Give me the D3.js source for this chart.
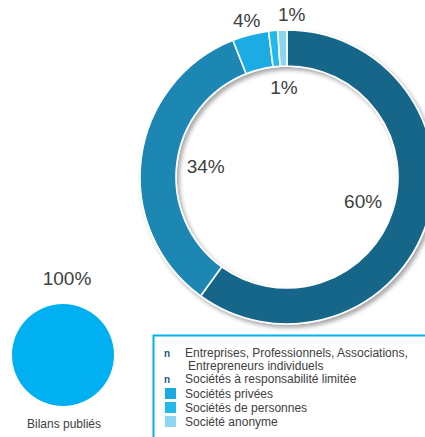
<!DOCTYPE html>
<html>
<head>
<meta charset="utf-8">
<script src="https://cdn.jsdelivr.net/npm/d3@7"></script>
<style>
  html, body { margin: 0; padding: 0; background: #fff; }
  svg { display: block; font-family: "Liberation Sans", Arial, sans-serif; }
</style>
</head>
<body>
<svg id="chart" width="425" height="437"></svg>
<script>
// Répartition des bilans publiés par forme juridique
const categories = [
  "Entreprises, Professionnels, Associations,\nEntrepreneurs individuels",
  "Sociétés à responsabilité limitée",
  "Sociétés privées",
  "Sociétés de personnes",
  "Société anonyme"
];
const shares = [60, 34, 4, 1, 1];
const shareLabels = ["60%", "34%", "4%", "1%", "1%"];
const colors = ["#17668a", "#1a87b3", "#1aabe2", "#22b9ed", "#8cd6f1"];
const legendMarkers = ["n", "n", "square", "square", "square"];

const totalLabel = "100%";
const totalCaption = "Bilans publiés";

// label placement: radius from donut center and angular nudge (radians)
const labelRadius = [80, 82, 162, 90, 163];
const labelNudge = [0, 0, 0, 0.06, 0.06];

const svg = d3.select("#chart");

const defs = svg.append("defs");
const shadow = defs.append("filter").attr("id", "shadow")
  .attr("x", "-20%").attr("y", "-20%").attr("width", "140%").attr("height", "140%");
shadow.append("feDropShadow")
  .attr("dx", 2.5).attr("dy", 3).attr("stdDeviation", 2.2)
  .attr("flood-color", "#000").attr("flood-opacity", 0.35);

// --- donut ---
const cx = 287, cy = 177, rOuter = 147, rInner = 111;
const pie = d3.pie().sort(null).value(d => d)(shares);
const arc = d3.arc().innerRadius(rInner).outerRadius(rOuter);

const g = svg.append("g").attr("transform", `translate(${cx},${cy})`);
g.append("g").attr("filter", "url(#shadow)")
  .selectAll("path").data(pie).join("path")
  .attr("d", arc)
  .attr("fill", (d, i) => colors[i])
  .attr("stroke", "#fff").attr("stroke-width", 1.6)
  .attr("stroke-linejoin", "round");

g.selectAll("text.val").data(pie).join("text")
  .attr("class", "val")
  .attr("transform", (d, i) => {
    const a = (d.startAngle + d.endAngle) / 2 + labelNudge[i];
    const c = d3.arc().innerRadius(labelRadius[i]).outerRadius(labelRadius[i])
      .centroid({ startAngle: a, endAngle: a });
    return `translate(${c[0]},${c[1]})`;
  })
  .attr("text-anchor", "middle").attr("dy", "0.35em")
  .attr("font-size", 19).attr("fill", "#404040")
  .text((d, i) => shareLabels[i]);

// --- total circle ---
const totalScale = d3.scaleSqrt().domain([0, 100]).range([0, 51]);
svg.append("circle").attr("cx", 63).attr("cy", 355)
  .attr("r", totalScale(100)).attr("fill", "#00b0f0");
svg.append("text").attr("x", 67).attr("y", 285)
  .attr("text-anchor", "middle").attr("font-size", 19).attr("fill", "#404040")
  .text(totalLabel);
svg.append("text").attr("x", 64).attr("y", 428)
  .attr("text-anchor", "middle").attr("font-size", 12).attr("fill", "#404040")
  .text(totalCaption);

// --- legend ---
const legend = svg.append("g");
legend.append("rect").attr("x", 153.5).attr("y", 335.5)
  .attr("width", 300).attr("height", 120)
  .attr("fill", "#fff").attr("stroke", "#00b0f0").attr("stroke-width", 2);

const rowY = [357, 383, 398, 412, 426];
categories.forEach((cat, i) => {
  const y = rowY[i];
  if (legendMarkers[i] === "n") {
    legend.append("text").attr("x", 164).attr("y", y)
      .attr("font-size", 10).attr("font-weight", "bold").attr("fill", "#1a5c80")
      .text("n");
  } else {
    legend.append("rect").attr("x", 165).attr("y", y - 10)
      .attr("width", 11).attr("height", 11).attr("fill", colors[i]);
  }
  cat.split("\n").forEach((line, j) => {
    legend.append("text").attr("x", j === 0 ? 185 : 188).attr("y", y + j * 13)
      .attr("font-size", 12).attr("fill", "#404040")
      .text(line);
  });
});
</script>
</body>
</html>
